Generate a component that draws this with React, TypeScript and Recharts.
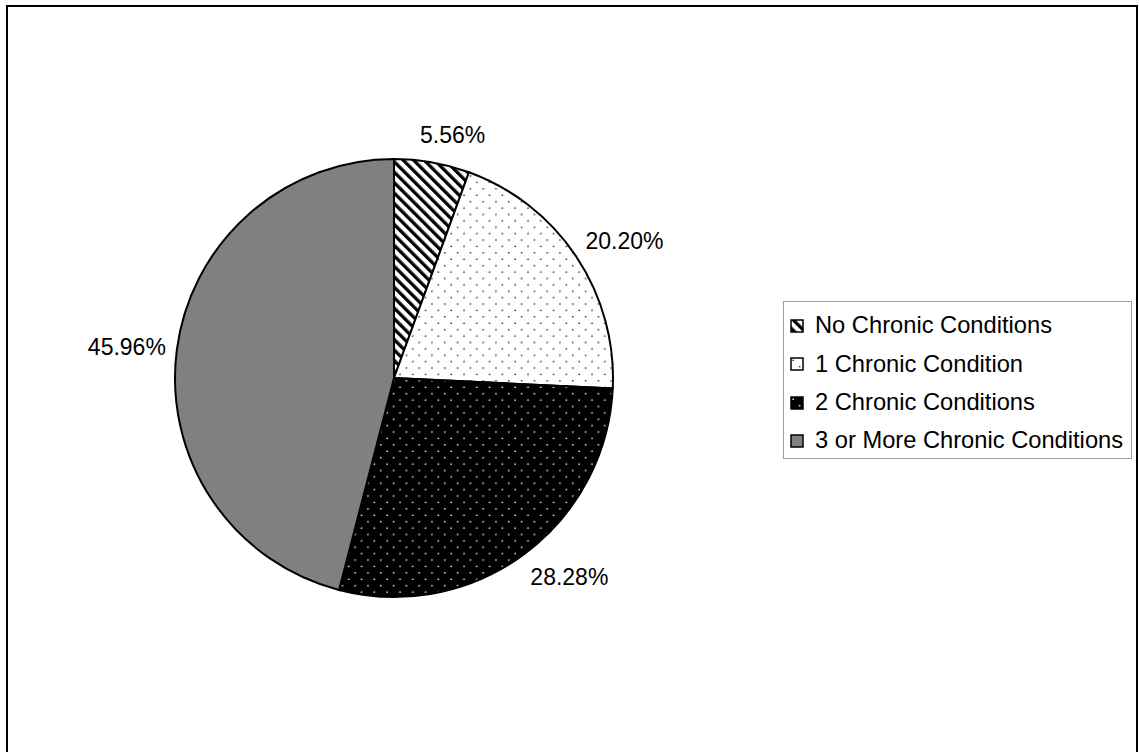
import { PieChart, Pie, Cell, Legend } from "recharts";

const categories = [
  "No Chronic Conditions",
  "1 Chronic Condition",
  "2 Chronic Conditions",
  "3 or More Chronic Conditions",
];
const shares = [5.56, 20.2, 28.28, 45.96];
const fills = ["url(#hatch)", "url(#dotsLight)", "url(#dotsDark)", "#808080"];

const data = categories.map((name, i) => ({ name, value: shares[i] }));

const FONT = '"Liberation Sans", Arial, sans-serif';
const LABEL_SIZE = 23;

// rough Arial advance widths for the label characters
function textWidth(s: string, size: number) {
  let w = 0;
  for (const ch of s) w += ch === "." ? 0.278 : ch === "%" ? 0.889 : 0.556;
  return w * size;
}

// Excel-ish outside labels: the text box is pushed off the rim along the mid angle
function renderLabel(props: any) {
  const { cx, cy, midAngle, outerRadius, value } = props;
  const rad = (midAngle * Math.PI) / 180;
  const cos = Math.cos(rad);
  const sin = Math.sin(rad);
  const text = `${value.toFixed(2)}%`;
  const w = textWidth(text, LABEL_SIZE);
  const px = cx + (outerRadius + 11) * cos;
  const py = cy - (outerRadius + 17) * sin;
  const x = px + Math.sign(cos) * (w / 2) * Math.min(1, 3.3 * Math.abs(cos));
  const y = py - 11 * sin;
  return (
    <text
      x={x}
      y={y}
      textAnchor="middle"
      dominantBaseline="central"
      fontFamily={FONT}
      fontSize={LABEL_SIZE}
      fill="#000"
    >
      {text}
    </text>
  );
}

function LegendBox() {
  return (
    <div
      style={{
        width: 349,
        height: 158,
        boxSizing: "border-box",
        border: "1px solid #a0a0a0",
        background: "#fff",
        paddingTop: 5,
        fontFamily: FONT,
        fontSize: 23.7,
        color: "#000",
      }}
    >
      {categories.map((name, i) => (
        <div
          key={name}
          style={{ display: "flex", alignItems: "center", height: 38.3 }}
        >
          <svg width={14} height={14} style={{ marginLeft: 6, marginRight: 11 }}>
            <rect
              x={1}
              y={1}
              width={12}
              height={12}
              fill={fills[i]}
              stroke="#000"
              strokeWidth={1.5}
            />
          </svg>
          <span style={{ lineHeight: 1, whiteSpace: "nowrap" }}>{name}</span>
        </div>
      ))}
    </div>
  );
}

export default function App() {
  return (
    <div
      style={{
        position: "absolute",
        left: 0,
        top: 0,
        width: 1139,
        height: 752,
        overflow: "hidden",
        background: "#fff",
      }}
    >
      <div
        style={{
          position: "absolute",
          left: 6,
          top: 5,
          width: 1132,
          height: 800,
          boxSizing: "border-box",
          border: "2px solid #000",
        }}
      />
      <div style={{ position: "absolute", left: 0, top: 0 }}>
        <PieChart
          width={1139}
          height={752}
          margin={{ top: 0, right: 0, bottom: 0, left: 0 }}
        >
          <defs>
            <pattern
              id="hatch"
              patternUnits="userSpaceOnUse"
              width={7.4}
              height={7.4}
              patternTransform="rotate(-45)"
            >
              <rect width={7.4} height={7.4} fill="#fff" />
              <rect width={3.3} height={7.4} fill="#000" />
            </pattern>
            <pattern
              id="dotsLight"
              patternUnits="userSpaceOnUse"
              width={12.8}
              height={12.8}
            >
              <rect width={12.8} height={12.8} fill="#fff" />
              <circle cx={3.2} cy={3.2} r={0.85} fill="#222" />
              <circle cx={9.6} cy={9.6} r={0.85} fill="#222" />
            </pattern>
            <pattern
              id="dotsDark"
              patternUnits="userSpaceOnUse"
              width={12.8}
              height={12.8}
            >
              <rect width={12.8} height={12.8} fill="#000" />
              <circle cx={3.2} cy={3.2} r={0.85} fill="#fff" />
              <circle cx={9.6} cy={9.6} r={0.85} fill="#fff" />
            </pattern>
          </defs>
          <Pie
            data={data}
            dataKey="value"
            nameKey="name"
            cx={394}
            cy={378}
            outerRadius={219}
            startAngle={90}
            endAngle={-270}
            stroke="#000"
            strokeWidth={2}
            label={renderLabel}
            labelLine={false}
            isAnimationActive={false}
          >
            {data.map((d, i) => (
              <Cell key={d.name} fill={fills[i]} />
            ))}
          </Pie>
          <Legend
            content={() => <LegendBox />}
            wrapperStyle={{ position: "absolute", left: 783, top: 301, width: 349 }}
          />
        </PieChart>
      </div>
    </div>
  );
}
